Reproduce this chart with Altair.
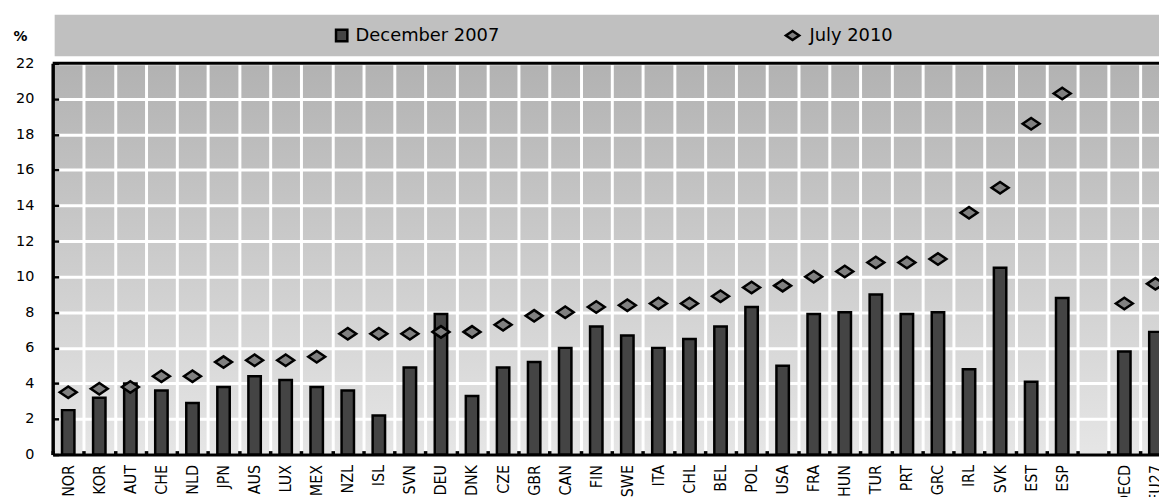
import altair as alt
import pandas as pd

countries = ["NOR", "KOR", "AUT", "CHE", "NLD", "JPN", "AUS", "LUX", "MEX", "NZL",
             "ISL", "SVN", "DEU", "DNK", "CZE", "GBR", "CAN", "FIN", "SWE", "ITA",
             "CHL", "BEL", "POL", "USA", "FRA", "HUN", "TUR", "PRT", "GRC", "IRL",
             "SVK", "EST", "ESP", "OECD", "EU27"]
dec2007 = [2.5, 3.2, 4.0, 3.6, 2.9, 3.8, 4.4, 4.2, 3.8, 3.6,
           2.2, 4.9, 7.9, 3.3, 4.9, 5.2, 6.0, 7.2, 6.7, 6.0,
           6.5, 7.2, 8.3, 5.0, 7.9, 8.0, 9.0, 7.9, 8.0, 4.8,
           10.5, 4.1, 8.8, 5.8, 6.9]
jul2010 = [3.5, 3.7, 3.8, 4.4, 4.4, 5.2, 5.3, 5.3, 5.5, 6.8,
           6.8, 6.8, 6.9, 6.9, 7.3, 7.8, 8.0, 8.3, 8.4, 8.5,
           8.5, 8.9, 9.4, 9.5, 10.0, 10.3, 10.8, 10.8, 11.0, 13.6,
           15.0, 18.6, 20.3, 8.5, 9.6]
x_domain = countries[:33] + [" "] + countries[33:]
y_ticks = [0, 2, 4, 6, 8, 10, 12, 14, 16, 18, 20, 22]
legend_labels = ["December 2007", "July 2010"]

df = pd.DataFrame({"country": countries, "dec2007": dec2007, "jul2010": jul2010})
leg = pd.DataFrame({"label": legend_labels})
top = pd.DataFrame({"v": [22]})

W = 1114
RANGE = 1126
H = 394
diamond = "M -1 0 L 0 -0.68 L 1 0 L 0 0.68 Z"
lab_font = "DejaVu Sans"
narrow_font = "DejaVu Sans Condensed, Roboto Condensed, Liberation Sans, Arial, sans-serif"

xscale = alt.Scale(domain=x_domain, range=[0, RANGE], paddingInner=0, paddingOuter=0)
yscale = alt.Scale(domain=[0, 22], nice=False)

bars = alt.Chart(df).mark_bar(size=12.5, fill="#444444", stroke="black", strokeWidth=2.5).encode(
    x=alt.X("country:N", sort=x_domain, scale=xscale,
            axis=alt.Axis(title=None, labelAngle=270, labelFont=narrow_font,
                          labelFontSize=16, labelColor="black", labelPadding=10,
                          tickBand="extent", grid=True, gridColor="white", gridWidth=3,
                          gridOpacity=1, ticks=False, tickSize=0, domainColor="black",
                          domainWidth=3, orient="bottom")),
    y=alt.Y("dec2007:Q", scale=yscale,
            axis=alt.Axis(values=y_ticks, grid=True, gridColor="white", gridWidth=3,
                          gridOpacity=1, ticks=False, tickSize=0, domainColor="black",
                          domainWidth=3.5, labelFont=lab_font, labelFontSize=14.5,
                          labelColor="black", labelPadding=19, orient="left",
                          title="%", titleAngle=0, titleX=-33, titleY=-27,
                          titleAlign="center", titleBaseline="middle",
                          titleFont=lab_font, titleFontSize=14, titleFontWeight="bold",
                          titleColor="black")),
)

points = alt.Chart(df).mark_point(shape=diamond, size=290, filled=True, fill="#808080",
                                  stroke="black", strokeWidth=2.5, opacity=1).encode(
    x=alt.X("country:N", sort=x_domain, scale=xscale,
            axis=alt.Axis(title=None, labels=False, domain=False, grid=False, ticks=True,
                          tickSize=4, tickWidth=3.5, tickColor="black", offset=-4,
                          tickBand="extent", orient="bottom")),
    y=alt.Y("jul2010:Q", scale=yscale,
            axis=alt.Axis(values=y_ticks, title=None, labels=False, domain=False, grid=False,
                          ticks=True, tickSize=6, tickWidth=2.5, tickColor="black",
                          offset=-6, orient="left")),
)

top_rule = alt.Chart(top).mark_rule(color="black", strokeWidth=3).encode(
    y=alt.Y("v:Q", scale=yscale, axis=None)
)

legend_bg = alt.Chart(leg.head(1)).mark_rect(fill="#c0c0c0").encode(
    x=alt.value(2), x2=alt.value(1300), y=alt.value(-49), y2=alt.value(-7)
)
leg_sq = alt.Chart(leg.head(1)).mark_point(shape="square", size=130, filled=True,
                                           fill="#444444", stroke="black", strokeWidth=2.5,
                                           opacity=1).encode(
    x=alt.value(291), y=alt.value(-28)
)
leg_dm = alt.Chart(leg.head(1)).mark_point(shape=diamond, size=180, filled=True,
                                           fill="#808080", stroke="black", strokeWidth=2.5,
                                           opacity=1).encode(
    x=alt.value(745), y=alt.value(-28)
)
leg_t1 = alt.Chart(leg.head(1)).mark_text(align="left", baseline="middle", font=lab_font,
                                          fontSize=18, color="black").encode(
    x=alt.value(305), y=alt.value(-27), text="label:N"
)
leg_t2 = alt.Chart(leg.tail(1)).mark_text(align="left", baseline="middle", font=lab_font,
                                          fontSize=18, color="black").encode(
    x=alt.value(762), y=alt.value(-27), text="label:N"
)

grad = ("{gradient: 'linear', x1: 0, y1: 0, x2: 0, y2: 1, "
        "stops: [{offset: 0, color: '#b2b2b2'}, {offset: 1, color: '#e6e6e6'}]}")

chart = alt.layer(bars, points, top_rule, legend_bg, leg_sq, leg_dm, leg_t1, leg_t2).resolve_axis(
    x="independent", y="independent"
).properties(
    width=W, height=H,
    autosize=alt.AutoSizeParams(type="none"),
    padding={"left": 45, "top": 54, "right": 0, "bottom": 41},
    background="white",
).configure_view(
    fill={"expr": grad}, stroke="transparent"
)

chart.save("out.html", embed_options={"renderer": "svg", "actions": False})
